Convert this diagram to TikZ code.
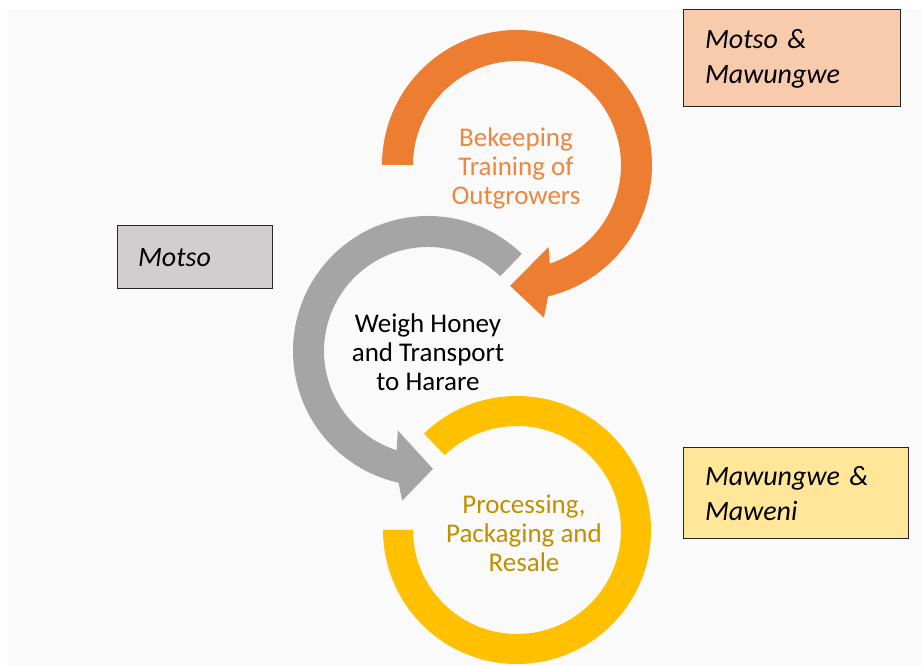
\documentclass[tikz,border=0pt]{standalone}
\usepackage{fontspec}
\setmainfont{Carlito}
\usetikzlibrary{calc}
\definecolor{panelgray}{HTML}{FAFAFA}
\definecolor{ringorange}{HTML}{ED7D31}
\definecolor{ringgray}{HTML}{A5A5A5}
\definecolor{ringyellow}{HTML}{FFC000}
\definecolor{txtorange}{HTML}{EE8640}
\definecolor{txtgold}{HTML}{BF9000}
\definecolor{boxorange}{HTML}{F8CBAD}
\definecolor{boxgray}{HTML}{D0CECE}
\definecolor{boxyellow}{HTML}{FFE699}
\tikzset{
  steptext/.style={align=center, font=\fontsize{27}{29}\selectfont, inner sep=0pt},
  rolebox/.style={draw=black!85, line width=1pt, align=left, anchor=center,
    font=\fontsize{28}{35}\selectfont\itshape, inner ysep=0pt},
}
\begin{document}
\begin{tikzpicture}[x=1pt,y=1pt]
\useasboundingbox (0,0) rectangle (922,666);
\fill[white] (0,0) rectangle (922,666);
\fill[panelgray] (7,0) rectangle (922,657);

% ring centres
\coordinate (oc) at (517,501);
\coordinate (gc) at (428,315);
\coordinate (yc) at (517,136);

% orange ring: clockwise from the left, arrow head at the bottom
\fill[ringorange] ($(oc)+(180:135)$) arc[start angle=180, end angle=-76.7, radius=135]
  -- ($(oc)+(-80:155)$) -- ($(oc)+(-93.3:121)$) -- ($(oc)+(-69:88)$)
  -- ($(oc)+(-71.6:104)$) arc[start angle=-71.6, end angle=180, radius=104] -- cycle;

% gray ring: counter-clockwise from the upper right, arrow head at the bottom
\fill[ringgray] ($(gc)+(46:135)$) arc[start angle=46, end angle=257.4, radius=135]
  -- ($(gc)+(260.2:152)$) -- ($(gc)+(272.4:118)$) -- ($(gc)+(249.2:85)$)
  -- ($(gc)+(252.4:104)$) arc[start angle=252.4, end angle=46, radius=104] -- cycle;

% yellow ring: open at the upper left
\fill[ringyellow] ($(yc)+(134:134)$) arc[start angle=134, end angle=-180, radius=134]
  -- ($(yc)+(-180:104)$) arc[start angle=-180, end angle=134, radius=104] -- cycle;

% step labels
\node[steptext, text=txtorange] (train) at (516,498) {Bekeeping\\Training of\\Outgrowers};
\node[steptext, text=black] (weigh) at (428,314) {Weigh Honey\\and Transport\\to Harare};
\node[steptext, text=txtgold] (proc) at (524,133) {Processing,\\Packaging and\\Resale};

% responsible parties
\node[rolebox, fill=boxorange, minimum width=217, minimum height=97,
  text width=173, inner xsep=22] (mm) at (791.5,607.5) {Motso \&\\Mawungwe};
\node[rolebox, fill=boxgray, minimum width=155, minimum height=63,
  text width=113, inner xsep=21] (mo) at (194.5,408.5) {Motso};
\node[rolebox, fill=boxyellow, minimum width=225, minimum height=91,
  text width=181, inner xsep=22] (mw) at (795.5,172.5) {Mawungwe \&\\Maweni};
\end{tikzpicture}
\end{document}
